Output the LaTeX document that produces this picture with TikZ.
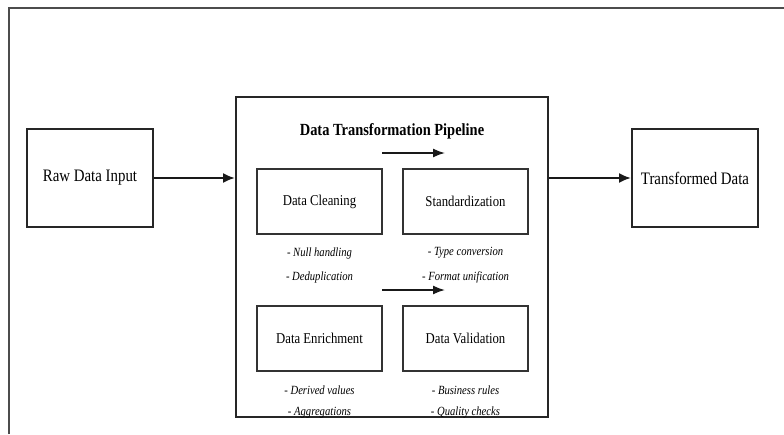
\documentclass[tikz,border=0pt]{standalone}
\usepackage{fontspec}
\setmainfont{Liberation Serif}[FakeStretch=0.85]
\usetikzlibrary{arrows.meta}
\begin{document}
\begin{tikzpicture}[x=1pt,y=-1pt,
  box/.style={draw=black!85, line width=2pt, inner sep=0pt},
  stagebox/.style={draw=black!80, line width=1.1pt, inner sep=0pt,
    minimum width=125pt, minimum height=65pt, font=\fontsize{15}{17}\selectfont},
  endbox/.style={box, minimum width=126pt, minimum height=98pt,
    font=\fontsize{17.5}{20}\selectfont},
  item/.style={inner sep=0pt, font=\fontsize{12.5}{14}\selectfont\itshape},
  mainflow/.style={draw=black!90, line width=2pt, -{Latex[length=12pt,width=10pt]}},
  stagearrow/.style={draw=black!90, line width=1.6pt, -{Latex[length=12pt,width=9pt]}}
]
\useasboundingbox (0,0) rectangle (784,434);
\fill[white] (0,0) rectangle (784,434);

% page frame, open to the right and bottom
\draw[black!70, line width=1.2pt] (9,434) -- (9,8) -- (784,8);

% end points of the flow
\node[endbox] (raw) at (90,178) {Raw Data Input};
\node[endbox] (out) at (695,178) {Transformed Data};

% pipeline container
\node[draw=black!85, line width=2pt, inner sep=0pt,
  minimum width=312pt, minimum height=320pt] (pipe) at (392,257) {};
\node[inner sep=0pt, font=\fontsize{17}{19}\selectfont\bfseries] (title) at (392,131) {Data Transformation Pipeline};

% stages
\node[stagebox] (clean) at (319.5,201.5) {Data Cleaning};
\node[stagebox] (std)   at (465.5,201.5) {Standardization};
\node[stagebox] (enr)   at (319.5,338.5) {Data Enrichment};
\node[stagebox] (val)   at (465.5,338.5) {Data Validation};

% stage details
\node[item] (c1) at (319.5,253) {- Null handling};
\node[item] (c2) at (319.5,277) {- Deduplication};
\node[item] (s1) at (465.5,253) {- Type conversion};
\node[item] (s2) at (465.5,277) {- Format unification};
\node[item] (e1) at (319.5,390) {- Derived values};
\node[item] (e2) at (319.5,413) {- Aggregations};
\node[item] (v1) at (465.5,390) {- Business rules};
\node[item] (v2) at (465.5,413) {- Quality checks};

% direction markers inside the pipeline
\coordinate (a1s) at (382,153);
\coordinate (a1e) at (445,153);
\coordinate (a2s) at (382,290);
\coordinate (a2e) at (445,290);
\draw[stagearrow] (a1s) -- (a1e);
\draw[stagearrow] (a2s) -- (a2e);

% main flow
\draw[mainflow] (raw.east) -- (raw.east -| pipe.west);
\draw[mainflow] (out.west -| pipe.east) -- (out.west);
\end{tikzpicture}
\end{document}
